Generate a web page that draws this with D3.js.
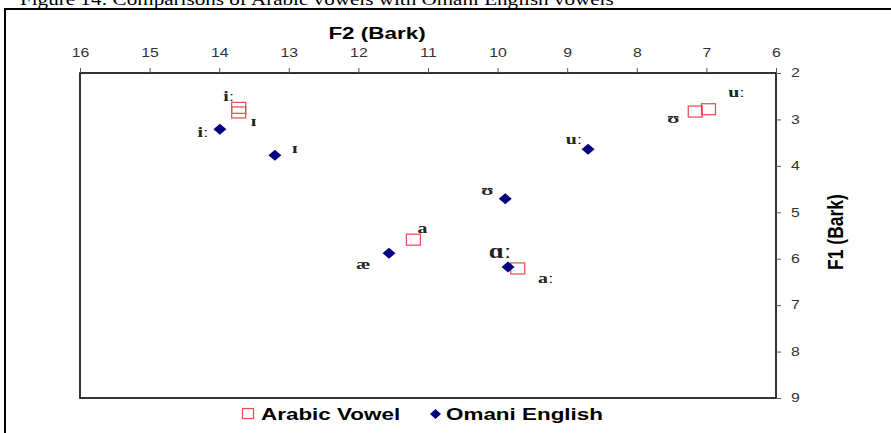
<!DOCTYPE html>
<html>
<head>
<meta charset="utf-8">
<script src="https://cdn.jsdelivr.net/npm/d3@7/dist/d3.min.js"></script>
<style>
  html, body { margin: 0; padding: 0; background: #fff; }
  svg { display: block; }
</style>
</head>
<body>
<script>
// Vowel formant data (Bark)
const arabicLabels = ["iː", "ɪ", "uː", "ʊ", "a", "aː"];
const arabicF2 = [13.72, 13.72, 6.97, 7.16, 11.21, 9.71];
const arabicF1 = [2.75, 2.85, 2.78, 2.83, 5.59, 6.21];

const omaniLabels = ["iː", "ɪ", "uː", "ʊ", "æ", "ɑː"];
const omaniF2 = [13.99, 13.20, 8.70, 9.89, 11.56, 9.85];
const omaniF1 = [3.21, 3.77, 3.64, 4.71, 5.88, 6.18];

const f2Ticks = [16, 15, 14, 13, 12, 11, 10, 9, 8, 7, 6];
const f1Ticks = [2, 3, 4, 5, 6, 7, 8, 9];

const W = 891, H = 433;
const SX = 1.32; // horizontal stretch applied to all lettering
const svg = d3.select("body").append("svg").attr("width", W).attr("height", H);

const axisFont = "'Liberation Sans', Arial, sans-serif";
const serif = "'Liberation Serif', 'DejaVu Serif', serif";

// Text placed at (px, py), widened horizontally by SX
function stretchedText(parent, px, py, str, opts) {
  const t = parent.append("text")
    .attr("transform", `translate(${px},${py}) scale(${SX},1)`)
    .attr("font-family", opts.family)
    .attr("font-size", opts.size)
    .attr("text-anchor", opts.anchor || "start")
    .attr("fill", opts.fill || "#000")
    .text(str);
  if (opts.weight) t.attr("font-weight", opts.weight);
  if (opts.baseline) t.attr("dominant-baseline", opts.baseline);
  return t;
}

// Figure caption (partly above the frame)
stretchedText(svg, 20, 5, "Figure 14: Comparisons of Arabic vowels with Omani English vowels",
  { family: "'Liberation Serif', 'Times New Roman', serif", size: 16 });

// Outer frame
svg.append("rect")
  .attr("x", 5).attr("y", 9).attr("width", 900).attr("height", 440)
  .attr("fill", "none").attr("stroke", "#000").attr("stroke-width", 2);

const x = d3.scaleLinear().domain([16, 6]).range([80, 776]);
const y = d3.scaleLinear().domain([2, 9]).range([73, 398]);

// Plot box
svg.append("rect")
  .attr("x", x(16)).attr("y", y(2))
  .attr("width", x(6) - x(16)).attr("height", y(9) - y(2))
  .attr("fill", "none").attr("stroke", "#000").attr("stroke-width", 1.6);

const gx = svg.append("g").attr("transform", `translate(0,${y(2)})`)
  .call(d3.axisTop(x).tickValues(f2Ticks).tickSize(5).tickFormat(d3.format("d")));
const gy = svg.append("g").attr("transform", `translate(${x(6)},0)`)
  .call(d3.axisRight(y).tickValues(f1Ticks).tickSize(5).tickFormat(d3.format("d")));

[gx, gy].forEach(g => {
  g.select(".domain").remove();
  g.selectAll(".tick line").attr("stroke", "#555");
  g.selectAll(".tick text")
    .attr("font-family", axisFont).attr("font-size", 12).attr("fill", "#333");
});
gx.selectAll(".tick text").attr("y", 0)
  .attr("transform", `translate(0,-16) scale(${SX},1)`).attr("dy", "0");
gy.selectAll(".tick text").attr("x", 0)
  .attr("transform", `translate(15,0) scale(${SX},1)`);

// Axis titles
stretchedText(svg, 377, 39, "F2 (Bark)",
  { family: axisFont, size: 17, weight: "bold", anchor: "middle" });

svg.append("text")
  .attr("transform", `translate(843,232) rotate(-90) scale(1,1.25)`)
  .attr("text-anchor", "middle")
  .attr("font-family", axisFont).attr("font-size", 17.5).attr("font-weight", "bold")
  .text("F1 (Bark)");

const arabic = arabicLabels.map((l, i) => ({ label: l, f2: arabicF2[i], f1: arabicF1[i] }));
const omani = omaniLabels.map((l, i) => ({ label: l, f2: omaniF2[i], f1: omaniF1[i] }));

// Label offsets from each marker, in pixels
const arabicOffsets = [[-10, -12], [15, 8], [28, -17], [-22, 6], [9, -12], [28, 9]];
const omaniOffsets = [[-17, 3], [20, -7], [-14, -10], [-18, -9], [-26, 11], [-8, -16]];

const red = "#e8474f", navy = "#000080";

// Arabic vowels: hollow squares
svg.append("g").selectAll("rect").data(arabic).join("rect")
  .attr("x", d => x(d.f2) - 7).attr("y", d => y(d.f1) - 5.5)
  .attr("width", 14).attr("height", 11)
  .attr("fill", "none").attr("stroke", red).attr("stroke-width", 1.2);

// Omani English vowels: filled diamonds
const diamond = "M0,-5.5L6.5,0L0,5.5L-6.5,0Z";
svg.append("g").selectAll("path").data(omani).join("path")
  .attr("d", diamond)
  .attr("transform", d => `translate(${x(d.f2)},${y(d.f1)})`)
  .attr("fill", navy);

// Vowel labels
function labels(data, offsets) {
  const g = svg.append("g");
  data.forEach((d, i) => {
    stretchedText(g, x(d.f2) + offsets[i][0], y(d.f1) + offsets[i][1], d.label, {
      family: serif, size: d.label === "ɑː" ? 20 : 15, weight: "bold",
      anchor: "middle", baseline: "central", fill: "#222"
    });
  });
}
labels(arabic, arabicOffsets);
labels(omani, omaniOffsets);

// Legend
const lg = svg.append("g");
lg.append("rect").attr("x", 242.5).attr("y", 408.5).attr("width", 11).attr("height", 10)
  .attr("fill", "none").attr("stroke", red).attr("stroke-width", 1.2);
stretchedText(lg, 261, 420, "Arabic Vowel", { family: axisFont, size: 17, weight: "bold" });
lg.append("path").attr("d", "M0,-5L5.5,0L0,5L-5.5,0Z")
  .attr("transform", "translate(435.5,414)").attr("fill", navy);
stretchedText(lg, 446, 420, "Omani English", { family: axisFont, size: 17, weight: "bold" });
</script>
</body>
</html>
